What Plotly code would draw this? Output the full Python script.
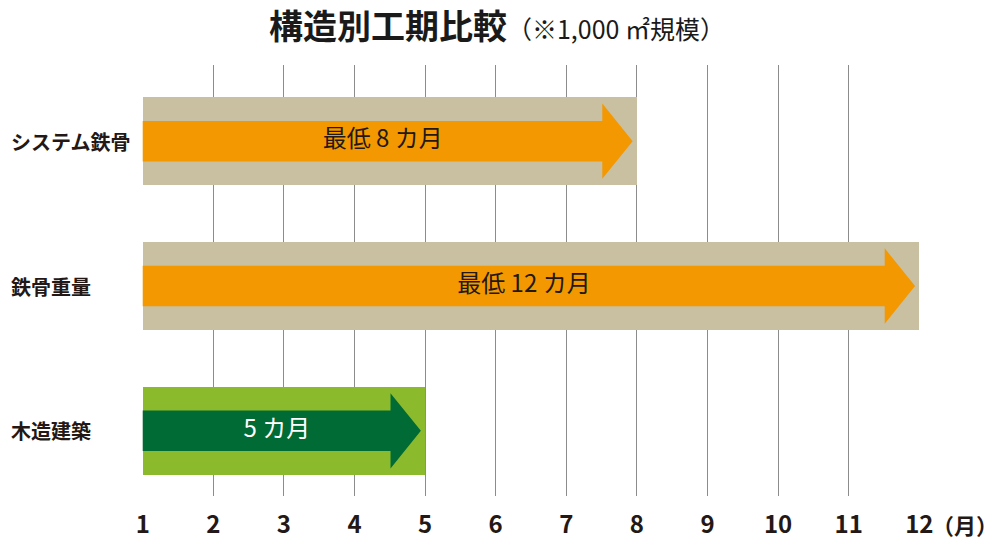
import plotly.graph_objects as go

# data
categories = ["システム鉄骨", "鉄骨重量", "木造建築"]
start_month = [1, 1, 1]
end_month = [8, 12, 5]
bar_labels = ["最低 8 カ月", "最低 12 カ月", "5 カ月"]
months = list(range(1, 13))

# styles
bar_colors = ["#C9BFA1", "#C9BFA1", "#8CBA2D"]
arrow_colors = ["#F39800", "#F39800", "#006B35"]
label_colors = ["#231815", "#231815", "#FFFFFF"]
font_jp = "Noto Sans CJK JP"

bar_width = 0.61
body_half = 0.14
head_half = 0.26
head_len = 0.43
tip_gap = 0.06

ypos = list(range(len(categories)))

fig = go.Figure()

# background bars
fig.add_trace(
    go.Bar(
        y=ypos,
        x=[e - s for s, e in zip(start_month, end_month)],
        base=start_month,
        orientation="h",
        width=bar_width,
        marker=dict(color=bar_colors, line=dict(width=0)),
        hoverinfo="skip",
        showlegend=False,
    )
)

# arrows built from start / end months
for i, (s, e) in enumerate(zip(start_month, end_month)):
    tip = e - tip_gap
    hb = tip - head_len
    y = ypos[i]
    xs = [s, hb, hb, tip, hb, hb, s, s]
    ys = [y - body_half, y - body_half, y - head_half, y,
          y + head_half, y + body_half, y + body_half, y - body_half]
    fig.add_trace(
        go.Scatter(
            x=xs, y=ys, mode="lines", fill="toself",
            fillcolor=arrow_colors[i], line=dict(width=0, color=arrow_colors[i]),
            hoverinfo="skip", showlegend=False,
        )
    )

# text inside arrows
fig.add_trace(
    go.Scatter(
        x=[(s + e) / 2 - 0.1 for s, e in zip(start_month, end_month)],
        y=ypos,
        mode="text",
        text=bar_labels,
        textfont=dict(family=font_jp, size=24, color=label_colors),
        hoverinfo="skip",
        showlegend=False,
    )
)

# category labels, left aligned
for i, c in enumerate(categories):
    fig.add_annotation(
        xref="paper", yref="y", x=-133 / 778, y=ypos[i],
        text=f"<b>{c}</b>", showarrow=False, xanchor="left",
        font=dict(family=font_jp, size=20, color="#231815"),
    )

# unit label after last tick
fig.add_annotation(
    xref="x", yref="paper", x=months[-1], y=0, yshift=-28, xshift=11,
    text="<b>（月）</b>", showarrow=False, xanchor="left", yanchor="middle",
    font=dict(family=font_jp, size=22, color="#231815"),
)

fig.update_layout(
    width=1000,
    height=544,
    margin=dict(l=134, r=88, t=57, b=54),
    paper_bgcolor="white",
    plot_bgcolor="white",
    title=dict(
        text="<b>構造別工期比較</b><span style='font-size:25px'>（※1,000 ㎡規模）</span>",
        x=0.489, xanchor="center", y=0.965, yanchor="middle",
        font=dict(family=font_jp, size=34, color="#1a1a1a"),
    ),
    bargap=0,
)
fig.update_xaxes(
    range=[0.99, 12.01],
    tickmode="array",
    tickvals=months,
    ticktext=[f"<b>{m}</b>" for m in months],
    tickfont=dict(family=font_jp, size=24, color="#231815"),
    showgrid=True,
    gridcolor="#8c8c8c",
    gridwidth=1.2,
    zeroline=False,
    showline=False,
    ticks="",
    ticklabelstandoff=12,
    fixedrange=True,
)
fig.update_yaxes(
    range=[2.45, -0.526],
    showticklabels=False,
    showgrid=False,
    zeroline=False,
    showline=False,
    fixedrange=True,
)

fig.write_html("out.html")
